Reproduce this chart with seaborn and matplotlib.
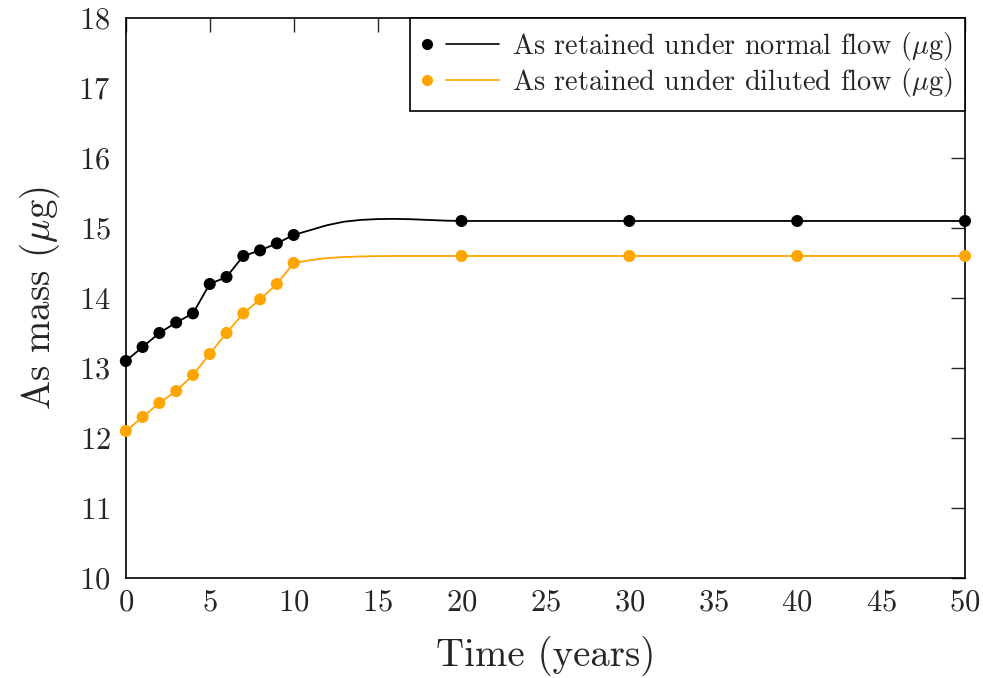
import numpy as np
import pandas as pd
import matplotlib
matplotlib.use("Agg")
import matplotlib.pyplot as plt
from matplotlib.lines import Line2D
from matplotlib.legend_handler import HandlerBase
from matplotlib.ticker import MultipleLocator, FixedLocator
import seaborn as sns

# Yearly model output of retained arsenic mass (µg)
years = [0, 1, 2, 3, 4, 5, 6, 7, 8, 9, 10, 11, 12, 13, 14, 15, 16, 17, 18, 19, 20,
         30, 40, 50]
normal_flow = [13.1, 13.3, 13.5, 13.65, 13.78, 14.2, 14.3, 14.6, 14.68, 14.78, 14.9,
               14.97, 15.04, 15.09, 15.115, 15.127, 15.13, 15.125, 15.115, 15.105, 15.1,
               15.1, 15.1, 15.1]
diluted_flow = [12.1, 12.3, 12.5, 12.67, 12.9, 13.2, 13.5, 13.78, 13.98, 14.2, 14.5,
                14.54, 14.57, 14.585, 14.593, 14.598, 14.6, 14.6, 14.6, 14.6, 14.6,
                14.6, 14.6, 14.6]
# Years shown with a marker
marked_years = [0, 1, 2, 3, 4, 5, 6, 7, 8, 9, 10, 20, 30, 40, 50]
series_labels = [r"As retained under normal flow ($\mu$g)",
                 r"As retained under diluted flow ($\mu$g)"]
series_colors = ["black", "#FFA500"]


class PointThenLine(HandlerBase):
    """Legend key drawn as a dot followed by a short line sample."""

    def create_artists(self, legend, orig, xdescent, ydescent, width, height,
                       fontsize, trans):
        y = height / 2 - ydescent
        x0 = -xdescent
        color = orig.get_color()
        dot = Line2D([x0 + 3.6], [y], ls="none", marker="o",
                     ms=orig.get_markersize(), color=color, transform=trans)
        seg = Line2D([x0 + 17.5, x0 + width], [y, y], lw=orig.get_linewidth(),
                     color=color, transform=trans)
        return [dot, seg]


sns.set_theme(style="white")
plt.rcParams.update({
    "font.family": "serif",
    "font.serif": ["cmr10", "DejaVu Serif"],
    "mathtext.fontset": "cm",
    "axes.formatter.use_mathtext": True,
    "axes.unicode_minus": False,
})

fig = plt.figure(figsize=(9.83, 6.78), dpi=100)
ax = fig.add_axes([0.128, 0.1475, 0.8537, 0.826])

data = pd.DataFrame({"year": years, "normal": normal_flow, "diluted": diluted_flow})
marked = data[data["year"].isin(marked_years)]

handles = []
for col, color in zip(["normal", "diluted"], series_colors):
    sns.lineplot(data=data, x="year", y=col, ax=ax, color=color, lw=1.3,
                 estimator=None, sort=True)
    sns.scatterplot(data=marked, x="year", y=col, ax=ax, color=color, s=75,
                    edgecolor="none", zorder=3, clip_on=False)
    handles.append(Line2D([], [], marker="o", ms=7, lw=1.2, color=color))

ax.set_xlim(0, 50)
ax.set_ylim(10, 18)
ax.xaxis.set_major_locator(MultipleLocator(5))
ax.xaxis.set_minor_locator(MultipleLocator(2.5))
ax.yaxis.set_major_locator(MultipleLocator(1))
ax.yaxis.set_minor_locator(MultipleLocator(0.5))

ax.tick_params(which="both", direction="in", top=False, right=False,
               color="black", width=1.0)
ax.tick_params(which="major", length=10)
ax.tick_params(which="minor", length=5)
ax.tick_params(axis="x", which="major", labelsize=22, pad=8)
ax.tick_params(axis="y", which="major", labelsize=22, pad=11)

# Top and right edges carry major ticks only
top = ax.secondary_xaxis("top")
top.xaxis.set_major_locator(FixedLocator(np.arange(0, 51, 5)))
top.tick_params(direction="in", length=10, width=1.0, labeltop=False)
top.spines["top"].set_visible(False)
right = ax.secondary_yaxis("right")
right.yaxis.set_major_locator(FixedLocator(np.arange(10, 19, 1)))
right.tick_params(direction="in", length=10, width=1.0, labelright=False)
right.spines["right"].set_visible(False)

for s in ax.spines.values():
    s.set_visible(True)
    s.set_color("black")
    s.set_linewidth(1.2)

ax.set_xlabel("Time (years)", fontsize=28, labelpad=14)
ax.set_ylabel(r"As mass ($\mu$g)", fontsize=28, labelpad=12)

leg = ax.legend(handles, series_labels, handler_map={Line2D: PointThenLine()},
                loc="upper right", bbox_to_anchor=(1, 1), borderaxespad=0,
                fontsize=20.4, handlelength=2.7, handletextpad=0.47, labelspacing=0.1,
                borderpad=0.42, fancybox=False, framealpha=1, edgecolor="black")
leg.get_frame().set_linewidth(1.2)
leg.set_zorder(5)

fig.savefig("out.png", dpi=100)
